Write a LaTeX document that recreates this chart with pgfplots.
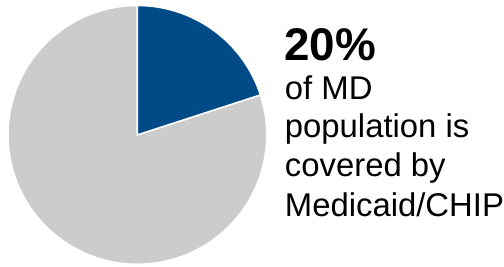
\documentclass[border=0pt]{standalone}
\usepackage{pgfplots}
\usepackage{pgfplotstable}
\pgfplotsset{compat=1.18}
\usepackage{fontspec}
\setmainfont{Liberation Sans}
\definecolor{mdblue}{RGB}{0,74,135}
\definecolor{mdgray}{RGB}{204,204,204}
\pgfplotstableread{
label value
Medicaid 20
Other 80
}\piedata
\pgfplotstablegetelem{0}{value}\of\piedata
\let\shareA\pgfplotsretval
\pgfmathsetmacro{\angA}{90-360*\shareA/100}
\begin{document}
\begin{tikzpicture}
\begin{axis}[
  x=1bp, y=1bp, xmin=0, xmax=504, ymin=0, ymax=267,
  hide axis, clip=false, scale only axis,
]
\path (axis cs:0,0) rectangle (axis cs:504,267);
% gray slice (80%)
\addplot[fill=mdgray, draw=white, line width=1.5bp, domain=\angA-360:90, samples=200]
  ({137.5+129.5*cos(x)},{132+129.5*sin(x)}) -- (axis cs:137.5,132) -- cycle;
% blue slice (20%)
\addplot[fill=mdblue, draw=white, line width=1.5bp, domain=\angA:90, samples=60]
  ({137.5+129.5*cos(x)},{132+129.5*sin(x)}) -- (axis cs:137.5,132) -- cycle;
\node[anchor=base west, inner sep=0pt, font=\fontsize{46}{52}\selectfont\bfseries] at (axis cs:284.5,206) {20\%};
\node[anchor=base west, inner sep=0pt, font=\fontsize{33}{39}\selectfont] at (axis cs:285,167) {of MD};
\node[anchor=base west, inner sep=0pt, font=\fontsize{33}{39}\selectfont] at (axis cs:285,129) {population is};
\node[anchor=base west, inner sep=0pt, font=\fontsize{33}{39}\selectfont] at (axis cs:285,90) {covered by};
\node[anchor=base west, inner sep=0pt, font=\fontsize{33}{39}\selectfont] at (axis cs:285,50) {Medicaid/CHIP};
\end{axis}
\end{tikzpicture}
\end{document}
